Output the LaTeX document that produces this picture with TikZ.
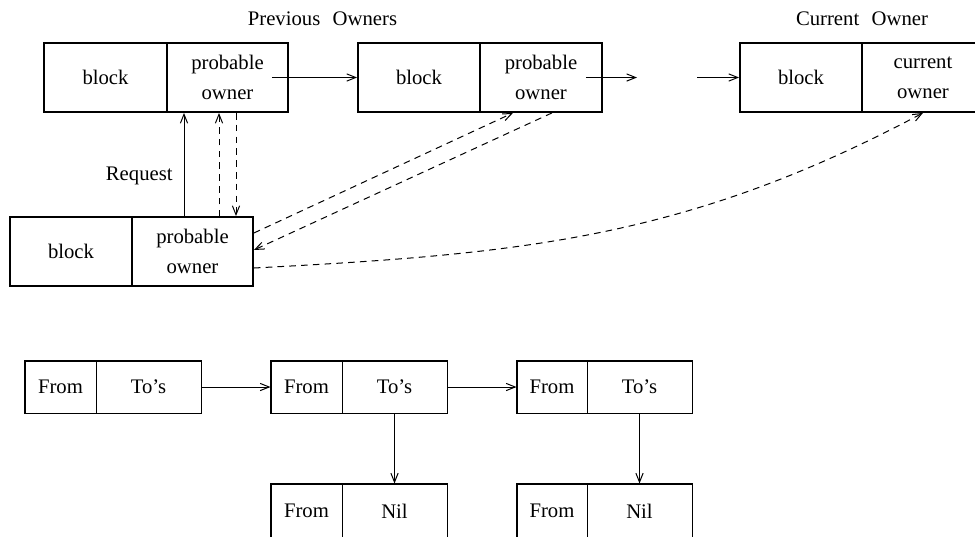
\documentclass[tikz,border=0pt]{standalone}
\usepackage{fontspec}
\setmainfont{Liberation Serif}
\usetikzlibrary{arrows.meta}

\tikzset{
  cell/.style={draw, line width=0.9pt, inner sep=0pt, minimum height=34.5pt,
               align=center, font=\fontsize{10.35}{15}\selectfont},
  slot/.style={draw, line width=0.5pt, inner sep=0pt, minimum height=26pt,
               align=center, font=\fontsize{10.35}{15}\selectfont},
  frame/.style={draw, line width=0.9pt},
  link/.style={line width=0.5pt, -{Straight Barb[length=4.5pt,width=3.6pt]}},
  msg/.style={link, dash pattern=on 3.3pt off 2.6pt},
  title/.style={font=\fontsize{10.35}{15}\selectfont, inner sep=0pt}
}

\begin{document}
\begin{tikzpicture}[x=0.5pt, y=-0.5pt]
  \useasboundingbox (0,0) rectangle (975,536);
  \clip (0,0) rectangle (975,536);

  % headings
  \node[title] (prevT) at (322.5,19) {Previous\hspace{0.6em}Owners};
  \node[title] (currT) at (862,19) {Current\hspace{0.6em}Owner};

  % owners along the chain
  \node[cell, minimum width=61.5pt] (A1) at (105.5,77.5) {block};
  \node[cell, minimum width=60.5pt] (A2) at (227.5,77.5) {probable\\owner};
  \node[cell, minimum width=61pt]   (B1) at (419,77.5) {block};
  \node[cell, minimum width=61pt]   (B2) at (541,77.5) {probable\\owner};
  \node[cell, minimum width=61pt]   (C1) at (801,77.5) {block};
  \node[cell, minimum width=61pt]   (C2) at (923,77.5) {current\\owner};

  % requesting node
  \node[cell, minimum width=61pt]   (D1) at (71,251.5) {block};
  \node[cell, minimum width=60.5pt] (D2) at (192.5,251.5) {probable\\owner};

  \node[title, anchor=east] (req) at (173,176) {Request};

  % forwarding chain
  \coordinate (gapL) at (637,77.5);
  \coordinate (gapR) at (697,77.5);
  \draw[link] ([xshift=-8.5pt]A2.east) -- (B1.west);
  \draw[link] ([xshift=-8.5pt]B2.east) -- (gapL);
  \draw[link] (gapR) -- (C1.west);

  % request and replies between requester and first owner
  \draw[link] ([xshift=-4.25pt]D2.north) -- ([xshift=-4.25pt]D2.north |- A2.south);
  \draw[msg]  ([xshift=13.25pt]D2.north) -- ([xshift=13.25pt]D2.north |- A2.south);
  \draw[msg]  ([xshift=4.25pt]A2.south) -- ([xshift=4.25pt]A2.south |- D2.north);

  % messages to the other owners
  \draw[msg] ([yshift=9.25pt]D2.east) -- ([xshift=-14pt]B2.south);
  \draw[msg] ([xshift=5.5pt]B2.south) -- ([yshift=0.75pt]D2.east);
  \draw[msg] ([yshift=-8.25pt]D2.east) to[out=3, in=208] (C2.south);

  % lower lists
  \node[slot, minimum width=35.5pt] (E1) at (60.5,387) {From};
  \node[slot, minimum width=52.5pt] (E2) at (148.5,387) {To’s};
  \node[slot, minimum width=35.5pt] (F1) at (306.5,387) {From};
  \node[slot, minimum width=52.5pt] (F2) at (394.5,387) {To’s};
  \node[slot, minimum width=35pt]   (G1) at (552,387) {From};
  \node[slot, minimum width=52.5pt] (G2) at (639.5,387) {To’s};
  \node[slot, minimum width=35.5pt, minimum height=27pt] (H1) at (306.5,511) {From};
  \node[slot, minimum width=52.5pt, minimum height=27pt] (H2) at (394.5,511) {Nil};
  \node[slot, minimum width=35pt,   minimum height=27pt] (I1) at (552,511) {From};
  \node[slot, minimum width=52.5pt, minimum height=27pt] (I2) at (639.5,511) {Nil};

  \foreach \a/\b in {E1/E2, F1/F2, G1/G2, H1/H2, I1/I2}
    \draw[frame] (\a.north west) rectangle (\b.south east);

  \draw[link] (E2.east) -- (F1.west);
  \draw[link] (F2.east) -- (G1.west);
  \draw[link] (F2.south) -- (H2.north);
  \draw[link] (G2.south) -- (I2.north);
\end{tikzpicture}
\end{document}
